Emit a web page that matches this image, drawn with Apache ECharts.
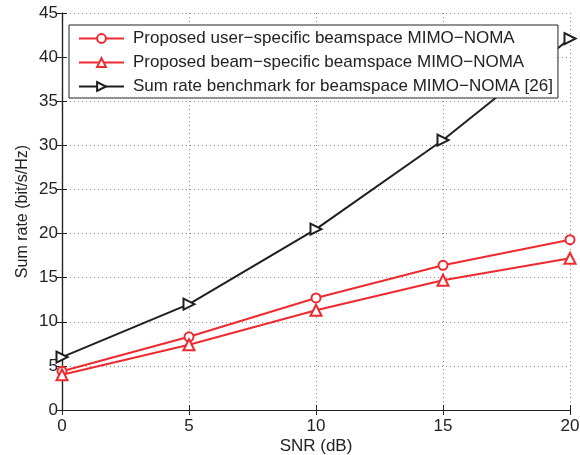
<!DOCTYPE html>
<html>
<head>
<meta charset="utf-8">
<script src="https://cdn.jsdelivr.net/npm/echarts@6/dist/echarts.min.js"></script>
<style>
html, body { margin: 0; padding: 0; background: #fff; }
#chart { width: 580px; height: 455px; }
</style>
</head>
<body>
<div id="chart"></div>
<script>
// values
var snr = [0, 5, 10, 15, 20];
var userSpecific = [4.4, 8.3, 12.7, 16.4, 19.3];
var beamSpecific = [4.0, 7.4, 11.3, 14.7, 17.2];
var benchmark = [6.0, 12.0, 20.5, 30.6, 42.1];
var names = [
  'Proposed user\u2212specific beamspace MIMO\u2212NOMA',
  'Proposed beam\u2212specific beamspace MIMO\u2212NOMA',
  'Sum rate benchmark for beamspace MIMO\u2212NOMA [26]'
];

function pairs(ys) {
  return snr.map(function (x, i) { return [x, ys[i]]; });
}

var red = '#ee2a2f';
var black = '#1f1f1f';
var font = 'Liberation Sans, Arial, sans-serif';
var fs = 17;

var chart = echarts.init(document.getElementById('chart'));

var axisCommon = {
  min: 0,
  axisLine: { show: true, lineStyle: { color: '#222', width: 1.2 } },
  axisTick: { show: true, inside: true, length: 5, lineStyle: { color: '#222' } },
  axisLabel: { color: '#222', fontSize: fs, fontFamily: font }
};

var option = {
  animation: false,
  grid: { left: 62, right: 10, top: 13, bottom: 45, outerBoundsMode: 'none', containLabel: false },
  legend: {
    orient: 'vertical',
    left: 69,
    top: 25,
    padding: [5, 5, 3, 9],
    itemGap: 7,
    itemWidth: 45,
    itemHeight: 11,
    backgroundColor: '#fff',
    borderColor: '#222',
    borderWidth: 1,
    textStyle: { color: '#222', fontSize: fs, fontFamily: font, padding: [0, 0, 0, 4] },
    data: names
  },
  xAxis: [
    Object.assign({}, axisCommon, {
      type: 'value', max: 20, interval: 5, position: 'bottom',
      name: 'SNR (dB)', nameLocation: 'middle', nameGap: 28, nameMoveOverlap: false,
      nameTextStyle: { color: '#222', fontSize: fs, fontFamily: font },
      splitLine: { show: true, lineStyle: { color: '#888', type: [1, 3], width: 1 } }
    }),
    Object.assign({}, axisCommon, {
      type: 'value', max: 20, interval: 5, position: 'top',
      axisLabel: { show: false }, splitLine: { show: false }
    })
  ],
  yAxis: [
    Object.assign({}, axisCommon, {
      type: 'value', max: 45, interval: 5, position: 'left',
      name: 'Sum rate (bit/s/Hz)', nameLocation: 'middle', nameGap: 31, nameMoveOverlap: false,
      nameTextStyle: { color: '#222', fontSize: 16, fontFamily: font },
      axisLabel: { color: '#222', fontSize: fs, fontFamily: font, margin: 4 },
      splitLine: { show: true, lineStyle: { color: '#888', type: [1, 3], width: 1 } }
    }),
    Object.assign({}, axisCommon, {
      type: 'value', max: 45, interval: 5, position: 'right',
      axisLabel: { show: false }, splitLine: { show: false }
    })
  ],
  series: [
    {
      name: names[0], type: 'line', data: pairs(userSpecific),
      symbol: 'emptyCircle', symbolSize: 9,
      lineStyle: { color: red, width: 2 },
      itemStyle: { color: red, borderColor: red, borderWidth: 1.6 }
    },
    {
      name: names[1], type: 'line', data: pairs(beamSpecific),
      symbol: 'emptyTriangle', symbolSize: 11,
      lineStyle: { color: red, width: 2 },
      itemStyle: { color: red, borderColor: red, borderWidth: 1.6 }
    },
    {
      name: names[2], type: 'line', data: pairs(benchmark),
      symbol: 'emptyTriangle', symbolSize: 11, symbolRotate: -90,
      lineStyle: { color: black, width: 2 },
      itemStyle: { color: black, borderColor: black, borderWidth: 1.6 }
    }
  ]
};

chart.setOption(option);
</script>
</body>
</html>
